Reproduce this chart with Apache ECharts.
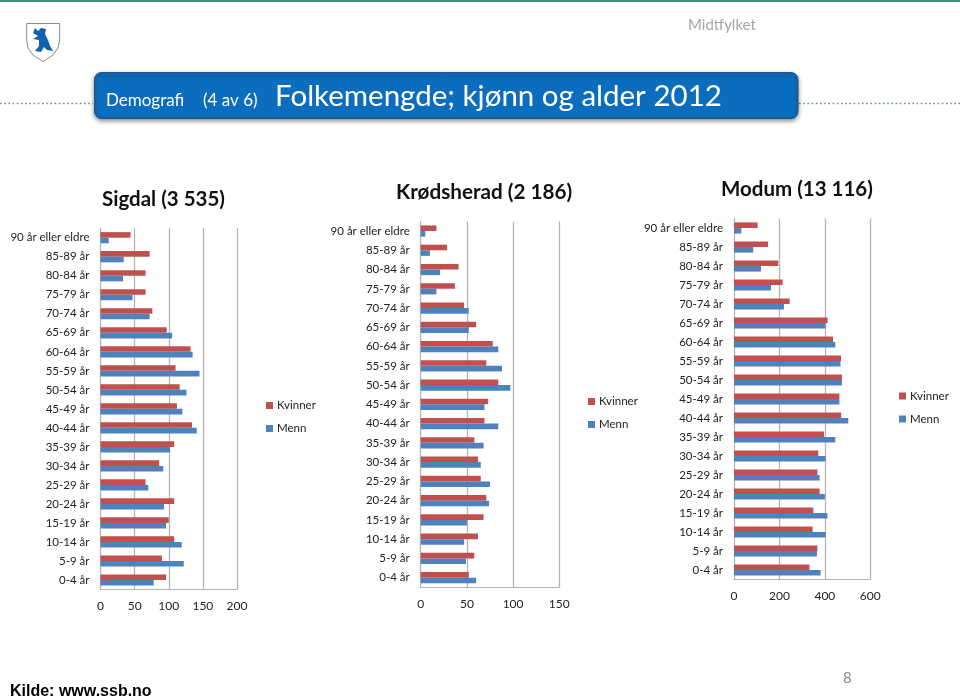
<!DOCTYPE html>
<html><head><meta charset="utf-8">
<style>html,body{margin:0;padding:0;background:#fff}#c{width:960px;height:697px}</style>
<script src="https://cdn.jsdelivr.net/npm/echarts@6/dist/echarts.min.js"></script>
</head><body><div id="c"></div>
<script>
const ageGroups = ['90 år eller eldre','85-89 år','80-84 år','75-79 år','70-74 år','65-69 år','60-64 år','55-59 år','50-54 år','45-49 år','40-44 år','35-39 år','30-34 år','25-29 år','20-24 år','15-19 år','10-14 år','5-9 år','0-4 år'];
const sigdalKvinner = [44,72,66,66,76,97,132,110,116,112,134,108,86,66,108,100,108,90,96];
const sigdalMenn = [12,34,33,47,72,105,135,145,126,120,141,102,92,70,93,96,119,122,78];
const krodsheradKvinner = [17,28.5,41,37,47,60,78,71,84,73,69,58,62,65,71,68,62,58,52];
const krodsheradMenn = [5,10,21,17,52,52,84,88,97,69,84,68,65,75,74,50,47,49,60];
const modumKvinner = [104,150,195,214,245,412,436,471,475,464,472,396,371,367,377,349,346,367,332];
const modumMenn = [32,85,119,163,220,403,446,469,475,464,503,446,403,377,400,411,403,365,381];
const panels = [
  {kv:sigdalKvinner, me:sigdalMenn, max:200, step:50, left:100.5, right:237, top:228.2, bottom:589.5, lx:266, ly:399.5},
  {kv:krodsheradKvinner, me:krodsheradMenn, max:150, step:50, left:420.7, right:559.3, top:221.4, bottom:587.3, lx:588, ly:395.5},
  {kv:modumKvinner, me:modumMenn, max:600, step:200, left:734, right:870.3, top:218.5, bottom:579.5, lx:899, ly:390}
];
const FONT = 'Lato, "Open Sans", sans-serif';
const RED = '#c0504d', BLUE = '#4f81bd', GRID = '#b4b4b4';
const option = {
  animation:false,
  backgroundColor:'#fff',
  grid:[], xAxis:[], yAxis:[], series:[], legend:[],
  graphic:{elements:[
    {type:'rect',shape:{x:0,y:0,width:960,height:2},style:{fill:'#3f8e80'}},
    {type:'line',shape:{x1:0,y1:103.5,x2:93,y2:103.5},style:{stroke:'#4f9a8c',lineWidth:1.6,lineDash:[1.6,2.6]}},
    {type:'line',shape:{x1:799,y1:103.5,x2:960,y2:103.5},style:{stroke:'#4f9a8c',lineWidth:1.6,lineDash:[1.6,2.6]}},
    {type:'rect',shape:{x:94.5,y:72.5,width:703.5,height:46,r:7},style:{fill:'#0b6dbd',stroke:'#27507f',lineWidth:1,shadowBlur:4,shadowOffsetY:2,shadowColor:'rgba(0,0,0,0.45)'}},
    {type:'text',x:106,y:100.5,style:{text:'Demografi',fill:'#fff',font:'17px '+FONT,verticalAlign:'middle'}},
    {type:'text',x:203,y:100.5,style:{text:'(4 av 6)',fill:'#fff',font:'17px '+FONT,verticalAlign:'middle'}},
    {type:'text',x:275,y:96.5,style:{text:'Folkemengde; kjønn og alder 2012',fill:'#fff',font:'29.5px '+FONT,verticalAlign:'middle'}},
    {type:'text',x:688,y:25.5,style:{text:'Midtfylket',fill:'#a6a6a6',font:'15px '+FONT,verticalAlign:'middle'}},
    {type:'text',x:102,y:199.5,style:{text:'Sigdal (3 535)',fill:'#111',font:'bold 20.5px '+FONT,verticalAlign:'middle'}},
    {type:'text',x:396,y:192.5,style:{text:'Krødsherad (2 186)',fill:'#111',font:'bold 20.7px '+FONT,verticalAlign:'middle'}},
    {type:'text',x:721,y:189.5,style:{text:'Modum (13 116)',fill:'#111',font:'bold 20.5px '+FONT,verticalAlign:'middle'}},
    {type:'text',x:10,y:691.5,style:{text:'Kilde: www.ssb.no',fill:'#000',font:'bold 16px "Liberation Sans", Arial, sans-serif',verticalAlign:'middle'}},
    {type:'text',x:843,y:678,style:{text:'8',fill:'#8a8a8a',font:'15px '+FONT,verticalAlign:'middle'}},
    {type:'polygon',shape:{points:[[26.7,23.5],[59.7,23.5],[59.7,40],[58,48],[53,55],[43,61.5],[33,55],[28,48],[26.7,40]]},style:{fill:'#fff',stroke:'#8c8c8c',lineWidth:1}},
    {type:'polygon',shape:{points:[[35,28],[38,31],[41,28],[46,29],[45,34],[48,40],[50,46],[53,51],[47,50],[44,47],[41,52],[35,51],[39,46],[39,40],[33,39],[38,36],[33,33]]},style:{fill:'#1460b0'}}
  ]}
};
panels.forEach((p,i)=>{
  option.grid.push({left:p.left,top:p.top,width:p.right-p.left,height:p.bottom-p.top,containLabel:false});
  option.xAxis.push({type:'value',gridIndex:i,min:0,max:p.max,interval:p.step,
    axisLine:{show:true,lineStyle:{color:GRID,width:1}},axisTick:{show:false},
    splitLine:{show:true,lineStyle:{color:GRID,width:1.3}},
    axisLabel:{color:'#222',fontFamily:FONT,fontSize:12,margin:11}});
  option.yAxis.push({type:'category',gridIndex:i,data:ageGroups,inverse:true,
    axisLine:{show:true,onZero:false,lineStyle:{color:GRID,width:1}},axisTick:{show:false},splitLine:{show:false},
    axisLabel:{color:'#222',fontFamily:FONT,fontSize:11.5,margin:11,interval:0}});
  [['Kvinner',p.kv,RED],['Menn',p.me,BLUE]].forEach(([name,data,color])=>{
    option.series.push({type:'bar',name,data,xAxisIndex:i,yAxisIndex:i,barWidth:5.6,barGap:'0%',
      itemStyle:{color},silent:true});
  });
  option.legend.push({show:true,orient:'vertical',left:p.lx,top:p.ly,data:['Kvinner','Menn'],selectedMode:false,
    icon:'rect',itemWidth:7,itemHeight:7,itemGap:11,padding:0,
    textStyle:{color:'#222',fontFamily:FONT,fontSize:11.5,padding:[0,0,0,-1]}});
});
echarts.init(document.getElementById('c')).setOption(option);
</script></body></html>
